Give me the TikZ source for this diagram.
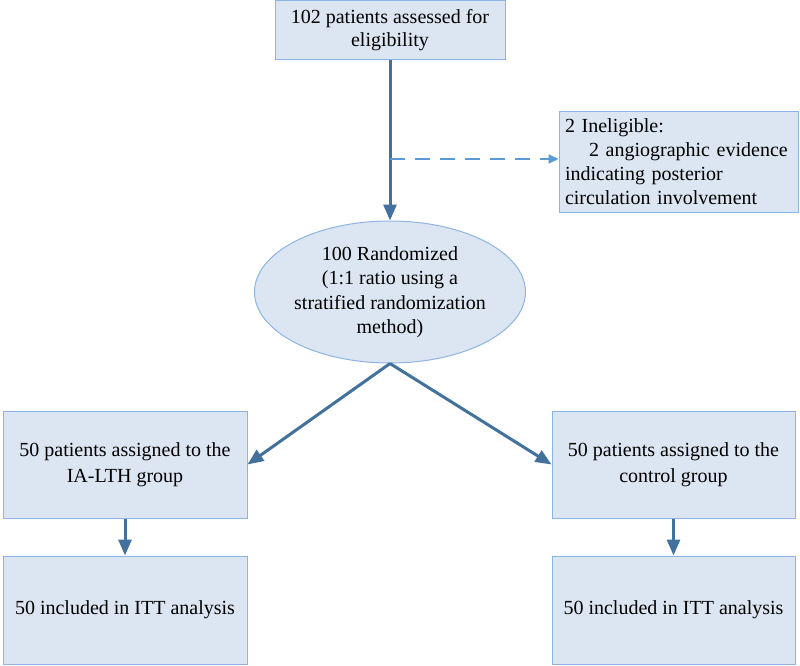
\documentclass[tikz,border=0pt]{standalone}
\usepackage{fontspec}
\setmainfont{Liberation Serif}
\usetikzlibrary{arrows.meta,shapes.geometric}
\definecolor{boxfill}{HTML}{DCE6F2}
\definecolor{boxline}{HTML}{8EB4E3}
\definecolor{arrowc}{HTML}{41719C}
\definecolor{dashc}{HTML}{5B9BD5}
\tikzset{
  box/.style={draw=boxline, fill=boxfill, line width=1pt, rectangle, inner sep=0pt,
    align=center, font=\fontsize{20}{24}\selectfont},
  ellbox/.style={draw=boxline, fill=boxfill, line width=1pt, ellipse, inner sep=0pt,
    align=center, font=\fontsize{20}{24.5}\selectfont},
  arr/.style={draw=arrowc, line width=3pt, -{Triangle[length=16pt,width=13pt]}},
  darr/.style={draw=dashc, line width=2pt, dash pattern=on 15pt off 10pt, -{Triangle[length=10pt,width=9pt]}}
}
\begin{document}
\begin{tikzpicture}[x=1pt,y=-1pt]
\useasboundingbox (0,0) rectangle (800,666);
\node[box, minimum width=230pt, minimum height=59pt] (top) at (390,30.5)
  {102 patients assessed for\\[-1pt]eligibility};
\node[box, minimum width=239pt, minimum height=100pt, text width=227pt, align=left] (inel) at (678.5,162)
  {2 Ineligible:\\\hspace*{1.2em}2 angiographic evidence\\indicating posterior\\circulation involvement};
\node[ellbox, minimum width=238pt, minimum height=142pt] (ell) at (390,292)
  {100 Randomized\\(1:1 ratio using a\\stratified randomization\\method)};
\node[box, minimum width=244pt, minimum height=107pt, font=\fontsize{20}{26}\selectfont] (l1) at (125,464.5)
  {50 patients assigned to the\\IA-LTH group};
\node[box, minimum width=244pt, minimum height=108pt] (l2) at (125,610)
  {50 included in ITT analysis};
\node[box, minimum width=243pt, minimum height=107pt, font=\fontsize{20}{26}\selectfont] (r1) at (673.5,464.5)
  {50 patients assigned to the\\control group};
\node[box, minimum width=243pt, minimum height=108pt] (r2) at (673.5,610)
  {50 included in ITT analysis};
\coordinate (j) at (390,159);
\draw[arr] (top.south) -- (ell.north);
\draw[darr] (j) -- (j -| inel.west);
\draw[arr] (ell.south) -- (l1.east);
\draw[arr] (ell.south) -- (r1.west);
\draw[arr] (l1.south) -- (l2.north);
\draw[arr] (r1.south) -- (r2.north);
\end{tikzpicture}
\end{document}
